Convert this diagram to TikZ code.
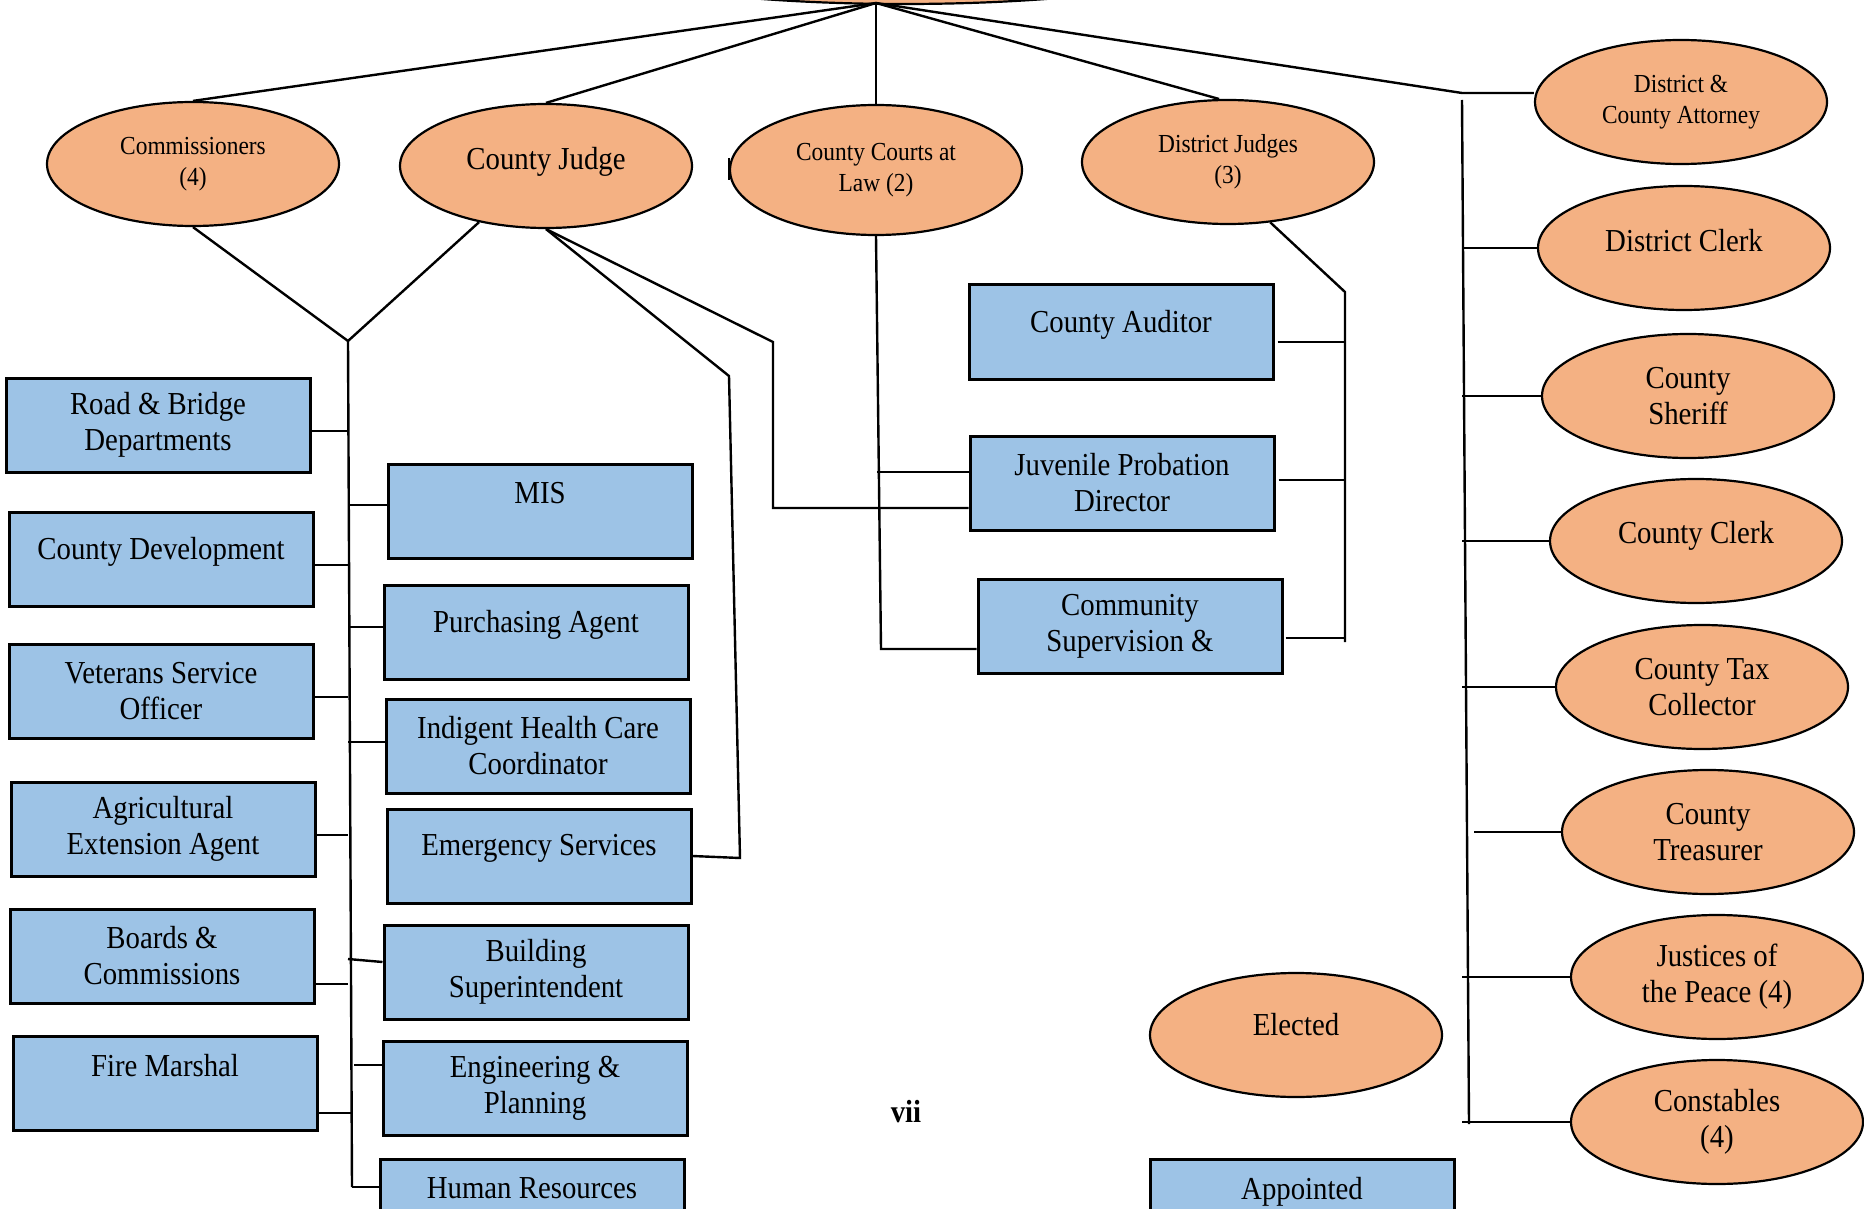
\documentclass[tikz,border=0pt]{standalone}
\usepackage{fontspec}
\setmainfont{Liberation Serif}[FakeStretch=0.9]
\usetikzlibrary{shapes.geometric,calc}
\definecolor{electfill}{HTML}{F4B183}
\definecolor{apptfill}{HTML}{9DC3E6}

\begin{document}
\begin{tikzpicture}[x=0.5pt,y=-0.5pt,
	office/.style={ellipse,draw,line width=1.1pt,fill=electfill,minimum width=146pt,minimum height=62pt,inner sep=0pt,align=center,font=\fontsize{16}{18}\selectfont},
	smalltext/.style={font=\fontsize{13}{15.5}\selectfont},
	dept/.style={rectangle,draw,line width=1.5pt,fill=apptfill,minimum width=152pt,minimum height=47pt,inner sep=0pt,align=center,font=\fontsize{16}{18}\selectfont},
	link/.style={line width=1.2pt}]
		\clip (0,0) rectangle (1864,1209);
		
		% elected offices
		\node[office,minimum width=360pt] (root) at (904,-58) {};
		\node[office,smalltext] (cmsr) at (193,164) {Commissioners\\(4)};
		\node[office] (judge) at (546,166) {\raisebox{8pt}{County Judge}};
		\node[office,smalltext,minimum height=65pt] (courts) at (876,170) {\raisebox{3pt}{County Courts at}\\\raisebox{3pt}{Law (2)}};
		\node[office,smalltext] (djudges) at (1228,162) {District Judges\\(3)};
		\node[office,smalltext] (attorney) at (1681,102) {District \&\\County Attorney};
		\node[office] (dclerk) at (1684,248) {\raisebox{8pt}{District Clerk}};
		\node[office] (sheriff) at (1688,396) {County\\Sheriff};
		\node[office] (cclerk) at (1696,541) {\raisebox{9pt}{County Clerk}};
		\node[office] (tax) at (1702,687) {County Tax\\Collector};
		\node[office] (treas) at (1708,832) {County\\Treasurer};
		\node[office] (justices) at (1717,977) {\raisebox{-3pt}{Justices of}\\\raisebox{-3pt}{the Peace (4)}};
		\node[office] (const) at (1717,1122) {\raisebox{-3pt}{Constables}\\\raisebox{-3pt}{(4)}};
		
		% appointed departments
		\node[dept] (road) at (158,425) {Road \& Bridge\\Departments};
		\node[dept] (dev) at (161,559) {County Development\\[-7pt]~};
		\node[dept] (vet) at (161,691) {Veterans Service\\Officer};
		\node[dept] (agri) at (163,829) {Agricultural\\Extension Agent};
		\node[dept] (boards) at (162,956) {Boards \&\\Commissions};
		\node[dept] (fire) at (165,1083) {Fire Marshal\\~};
		\node[dept] (mis) at (540,511) {MIS\\~};
		\node[dept] (purch) at (536,632) {Purchasing Agent\\[-7pt]~};
		\node[dept] (indig) at (538,746) {Indigent Health Care\\Coordinator};
		\node[dept] (emerg) at (539,856) {Emergency Services\\[-7pt]~};
		\node[dept] (build) at (536,972) {Building\\Superintendent};
		\node[dept] (eng) at (535,1088) {Engineering \&\\Planning};
		\node[dept] (hr) at (532,1206) {Human Resources\\~};
		\node[dept] (auditor) at (1121,332) {County Auditor\\[-7pt]~};
		\node[dept] (juv) at (1122,483) {Juvenile Probation\\Director};
		\node[dept] (csup) at (1130,626) {Community\\Supervision \&};
		
		% legend
		\node[office] (elected) at (1296,1035) {\raisebox{11pt}{Elected}};
		\node[dept] (appointed) at (1302,1206) {Appointed\\~};
		\node[font=\fontsize{16}{18}\selectfont\bfseries] (page) at (906,1112) {vii};
		
		% top level
		\coordinate (hub) at (876,3);
		\coordinate (rbtop) at (1462,93);
		\coordinate (rbbot) at (1469,1124);
		\draw[link] (hub) -- (cmsr.north);
		\draw[link] (hub) -- (judge.north);
		\draw[link] (hub) -- (courts.north);
		\draw[link] (hub) -- (djudges.98);
		\draw[link] (hub) -- (rbtop) -- (rbtop -| attorney.west);
		\draw[link] ([yshift=6pt]courts.west) -- ([yshift=-5pt]courts.west);
		
		% right bus
		\draw[link] ($(rbtop)+(0,7)$) -- (rbbot);
		\foreach \n in {dclerk,sheriff,cclerk,tax,justices,const}
			\draw[link] (\n.west -| rbtop) -- (\n.west);
		\draw[link] ($(treas.west -| rbtop)+(12,0)$) -- (treas.west);
		
		% left bus
		\coordinate (lbtop) at (348,341);
		\coordinate (lbbot) at (352,1187);
		\draw[link] (cmsr.south) -- (lbtop) -- (judge.220);
		\draw[link] (lbtop) -- (lbbot);
		\foreach \n in {road,dev,vet,agri}
			\draw[link] ($(\n.east)+(0,6)$) -- ($(\n.east -| lbtop)+(0,6)$);
		\draw[link] ($(boards.east)+(0,28)$) -- ($(boards.east -| lbtop)+(0,28)$);
		\draw[link] ($(fire.east)+(0,30)$) -- ($(fire.east -| lbtop)+(4,30)$);
		\draw[link] ($(mis.west -| lbtop)+(0,-6)$) -- ($(mis.west)+(0,-6)$);
		\draw[link] ($(purch.west -| lbtop)+(0,-5)$) -- ($(purch.west)+(0,-5)$);
		\draw[link] ($(indig.west -| lbtop)+(0,-4)$) -- ($(indig.west)+(0,-4)$);
		\draw[link] ($(build.west -| lbtop)+(0,-13)$) -- ($(build.west)+(0,-10)$);
		\draw[link] ($(eng.west -| lbtop)+(6,-23)$) -- ($(eng.west)+(0,-23)$);
		\draw[link] (lbbot) -- (lbbot -| hr.west);
		
		% county judge
		\coordinate (ej1) at (729,376);
		\coordinate (ej2) at (740,858);
		\coordinate (jj1) at (773,342);
		\coordinate (jj2) at (773,508);
		\draw[link] (judge.south) -- (ej1) -- (ej2) -- (emerg.east);
		\draw[link] (judge.south) -- (jj1) -- (jj2) -- (jj2 -| juv.west);
		
		% county courts
		\coordinate (cc1) at (881,649);
		\draw[link] (courts.south) -- (cc1) -- (cc1 -| csup.west);
		\draw[link] (877,472) -- (juv.west |- 0,472);
		
		% district judges
		\coordinate (dj1) at (1345,292);
		\coordinate (dj2) at (1345,642);
		\draw[link] (djudges.305) -- (dj1) -- (dj2);
		\draw[link] ($(auditor.east)+(3,10)$) -- ($(auditor.east -| dj1)+(0,10)$);
		\draw[link] ($(juv.east)+(3,-3)$) -- ($(juv.east -| dj1)+(0,-3)$);
		\draw[link] ($(csup.east)+(2,12)$) -- ($(csup.east -| dj1)+(0,12)$);
	\end{tikzpicture}
\end{document}
